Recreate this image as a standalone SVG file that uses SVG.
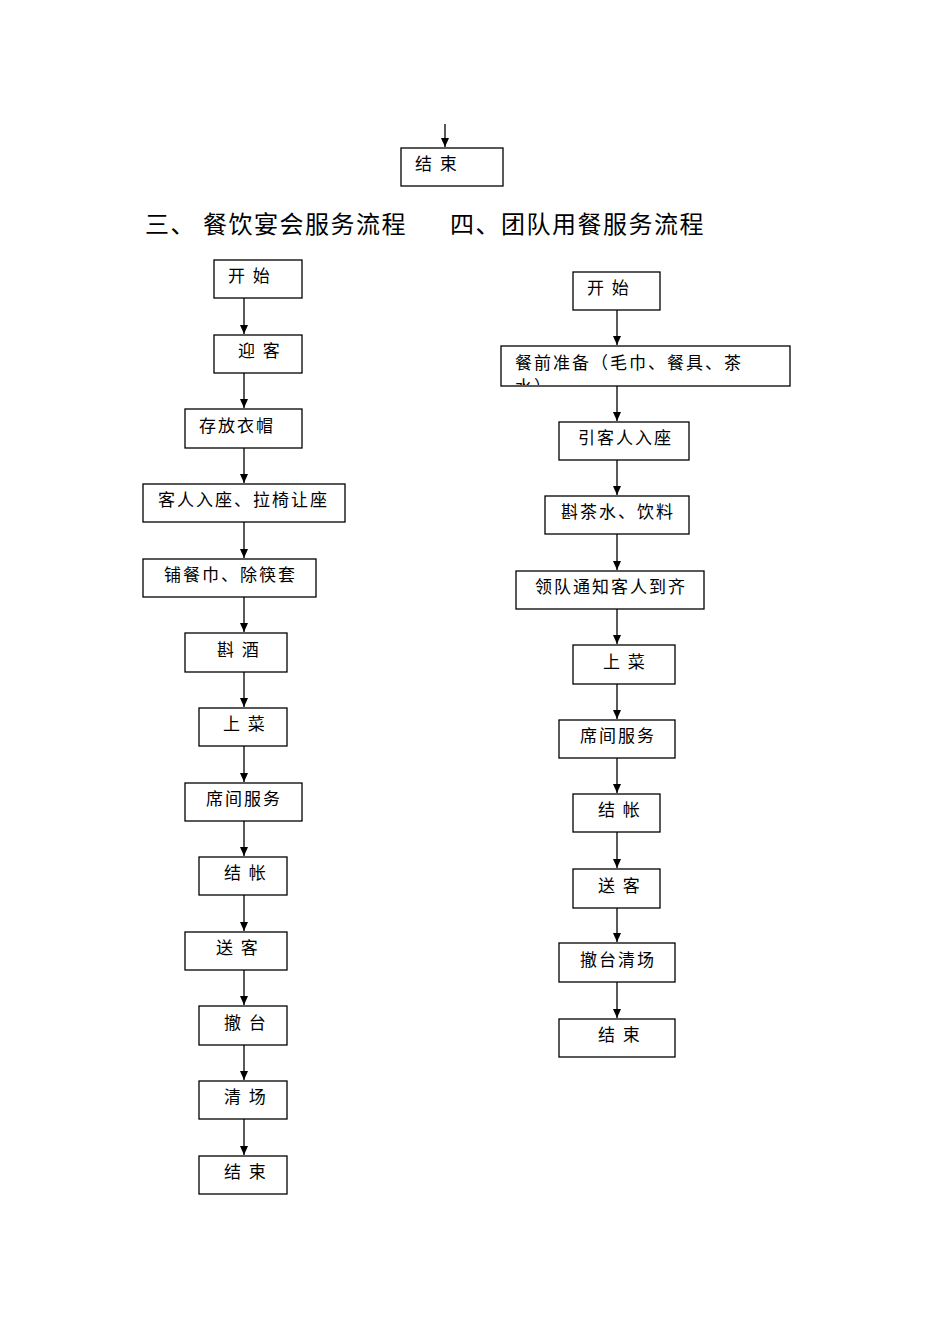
<svg xmlns="http://www.w3.org/2000/svg" width="950" height="1344" viewBox="0 0 950 1344">
<style>
rect{fill:#fff;stroke:#000;stroke-width:1.3}
text{font-family:"Noto Sans CJK SC","Liberation Sans",sans-serif;font-size:17px;fill:#000;letter-spacing:2px}
.h{font-size:24px;letter-spacing:1.5px}
line{stroke:#000;stroke-width:1.3}
</style>
<defs>
<marker id="a" markerWidth="10" markerHeight="10" refX="9" refY="5" orient="auto" markerUnits="userSpaceOnUse"><path d="M0,1 L9,5 L0,9 Z" fill="#000"/></marker>
<clipPath id="c"><rect x="502" y="347" width="287" height="38"/></clipPath>
</defs>
<rect width="950" height="1344" fill="#fff" style="stroke:none"/>
<g id="connectors">
<line x1="445" y1="124" x2="445" y2="147" marker-end="url(#a)"/>
<line x1="244" y1="298" x2="244" y2="334" marker-end="url(#a)"/>
<line x1="244" y1="373" x2="244" y2="408" marker-end="url(#a)"/>
<line x1="244" y1="448" x2="244" y2="483" marker-end="url(#a)"/>
<line x1="244" y1="522" x2="244" y2="558" marker-end="url(#a)"/>
<line x1="244" y1="597" x2="244" y2="632" marker-end="url(#a)"/>
<line x1="244" y1="672" x2="244" y2="707" marker-end="url(#a)"/>
<line x1="244" y1="746" x2="244" y2="782" marker-end="url(#a)"/>
<line x1="244" y1="821" x2="244" y2="856" marker-end="url(#a)"/>
<line x1="244" y1="895" x2="244" y2="931" marker-end="url(#a)"/>
<line x1="244" y1="970" x2="244" y2="1005" marker-end="url(#a)"/>
<line x1="244" y1="1045" x2="244" y2="1080" marker-end="url(#a)"/>
<line x1="244" y1="1119" x2="244" y2="1155" marker-end="url(#a)"/>
<line x1="617" y1="310" x2="617" y2="345" marker-end="url(#a)"/>
<line x1="617" y1="386" x2="617" y2="421" marker-end="url(#a)"/>
<line x1="617" y1="460" x2="617" y2="495" marker-end="url(#a)"/>
<line x1="617" y1="534" x2="617" y2="570" marker-end="url(#a)"/>
<line x1="617" y1="609" x2="617" y2="644" marker-end="url(#a)"/>
<line x1="617" y1="684" x2="617" y2="719" marker-end="url(#a)"/>
<line x1="617" y1="758" x2="617" y2="793" marker-end="url(#a)"/>
<line x1="617" y1="832" x2="617" y2="868" marker-end="url(#a)"/>
<line x1="617" y1="908" x2="617" y2="942" marker-end="url(#a)"/>
<line x1="617" y1="982" x2="617" y2="1018" marker-end="url(#a)"/>
</g>
<g id="top-end"><rect x="401" y="148" width="102" height="38"/><text x="415" y="170">结 束</text></g>
<text class="h" x="145" y="233">三、 餐饮宴会服务流程</text>
<text class="h" x="450" y="233">四、团队用餐服务流程</text>
<g id="L1"><rect x="214" y="260" width="88" height="38"/><text x="228" y="282">开 始</text></g>
<g id="L2"><rect x="214" y="335" width="88" height="38"/><text x="238" y="357">迎 客</text></g>
<g id="L3"><rect x="185" y="409" width="117" height="39"/><text x="199" y="432">存放衣帽</text></g>
<g id="L4"><rect x="143" y="484" width="202" height="38"/><text x="158" y="506">客人入座、拉椅让座</text></g>
<g id="L5"><rect x="143" y="559" width="173" height="38"/><text x="164" y="581">铺餐巾、除筷套</text></g>
<g id="L6"><rect x="185" y="633" width="102" height="39"/><text x="217" y="656">斟 酒</text></g>
<g id="L7"><rect x="199" y="708" width="88" height="38"/><text x="223" y="730">上 菜</text></g>
<g id="L8"><rect x="185" y="783" width="117" height="38"/><text x="206" y="805">席间服务</text></g>
<g id="L9"><rect x="199" y="857" width="88" height="38"/><text x="224" y="879">结 帐</text></g>
<g id="L10"><rect x="185" y="932" width="102" height="38"/><text x="216" y="954">送 客</text></g>
<g id="L11"><rect x="199" y="1006" width="88" height="39"/><text x="224" y="1029">撤 台</text></g>
<g id="L12"><rect x="199" y="1081" width="88" height="38"/><text x="224" y="1103">清 场</text></g>
<g id="L13"><rect x="199" y="1156" width="88" height="38"/><text x="224" y="1178">结 束</text></g>
<g id="R1"><rect x="573" y="272" width="87" height="38"/><text x="587" y="294">开 始</text></g>
<g id="R2"><rect x="501" y="346" width="289" height="40"/><g clip-path="url(#c)"><text x="515" y="369" letter-spacing="6">餐前准备（毛巾、餐具、茶</text><text x="515" y="393">水）</text></g></g>
<g id="R3"><rect x="559" y="422" width="130" height="38"/><text x="578" y="444">引客人入座</text></g>
<g id="R4"><rect x="545" y="496" width="144" height="38"/><text x="561" y="518">斟茶水、饮料</text></g>
<g id="R5"><rect x="516" y="571" width="188" height="38"/><text x="535" y="593">领队通知客人到齐</text></g>
<g id="R6"><rect x="573" y="645" width="102" height="39"/><text x="603" y="668">上 菜</text></g>
<g id="R7"><rect x="559" y="720" width="116" height="38"/><text x="580" y="742">席间服务</text></g>
<g id="R8"><rect x="573" y="794" width="87" height="38"/><text x="598" y="816">结 帐</text></g>
<g id="R9"><rect x="573" y="869" width="87" height="39"/><text x="598" y="892">送 客</text></g>
<g id="R10"><rect x="559" y="943" width="116" height="39"/><text x="580" y="966">撤台清场</text></g>
<g id="R11"><rect x="559" y="1019" width="116" height="38"/><text x="598" y="1041">结 束</text></g>
</svg>
